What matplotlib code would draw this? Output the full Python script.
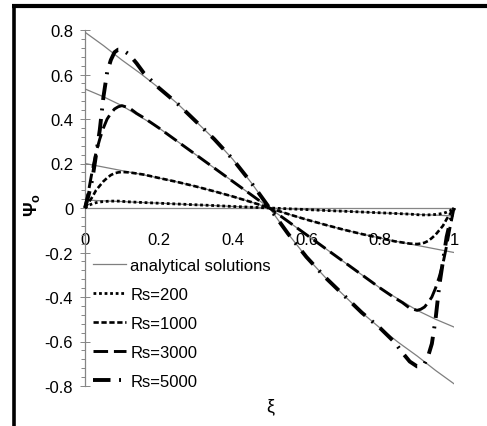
import matplotlib
matplotlib.use("Agg")
import matplotlib.pyplot as plt
from matplotlib import font_manager
from matplotlib.lines import Line2D
from matplotlib.ticker import MultipleLocator

# narrow font if there is one, otherwise Liberation Sans a bit smaller
installed = {f.name for f in font_manager.fontManager.ttflist}
if "Liberation Sans Narrow" in installed:
    plt.rcParams['font.family'] = ['Liberation Sans Narrow', 'DejaVu Sans']
    fs = 13
else:
    plt.rcParams['font.family'] = ['Liberation Sans', 'DejaVu Sans']
    fs = 12

# analytical solutions
xi_ana = [0, 0.05, 0.1, 0.15, 0.2, 0.25, 0.3, 0.35, 0.4, 0.45, 0.5,
          0.55, 0.6, 0.65, 0.7, 0.75, 0.8, 0.85, 0.9, 0.95, 1.0]
ana_200 = [0.036, 0.032, 0.029, 0.025, 0.022, 0.018, 0.014, 0.011, 0.007, 0.004, 0,
           -0.004, -0.007, -0.011, -0.014, -0.018, -0.022, -0.025, -0.029, -0.032, -0.036]
ana_1000 = [0.2, 0.184, 0.168, 0.152, 0.135, 0.117, 0.097, 0.075, 0.052, 0.027, 0,
            -0.027, -0.052, -0.075, -0.097, -0.117, -0.135, -0.152, -0.168, -0.184, -0.2]
ana_3000 = [0.535, 0.50, 0.46, 0.41, 0.36, 0.30, 0.24, 0.18, 0.12, 0.06, 0,
            -0.06, -0.12, -0.18, -0.24, -0.30, -0.36, -0.41, -0.46, -0.50, -0.535]
ana_5000 = [0.79, 0.73, 0.665, 0.605, 0.54, 0.47, 0.39, 0.31, 0.22, 0.115, 0,
            -0.115, -0.22, -0.31, -0.39, -0.47, -0.54, -0.605, -0.665, -0.73, -0.79]

# numerical solutions
xi_num = [0, 0.01, 0.02, 0.03, 0.04, 0.05, 0.06, 0.07, 0.08, 0.09, 0.1,
          0.12, 0.14, 0.16, 0.2, 0.25, 0.3, 0.35, 0.4, 0.45, 0.5,
          0.55, 0.6, 0.65, 0.7, 0.75, 0.8, 0.84, 0.86, 0.88,
          0.9, 0.91, 0.92, 0.93, 0.94, 0.95, 0.96, 0.97, 0.98, 0.99, 1.0]
rs_200 = [0, 0.012, 0.019, 0.024, 0.027, 0.029, 0.030, 0.031, 0.031, 0.031, 0.030,
          0.0275, 0.026, 0.0245, 0.0215, 0.018, 0.0145, 0.011, 0.007, 0.0035, 0,
          -0.0035, -0.007, -0.011, -0.0145, -0.018, -0.0215, -0.0245, -0.026, -0.0275,
          -0.030, -0.031, -0.031, -0.031, -0.030, -0.029, -0.027, -0.024, -0.019, -0.012, 0]
rs_1000 = [0, 0.025, 0.05, 0.08, 0.10, 0.12, 0.135, 0.148, 0.156, 0.160, 0.162,
           0.160, 0.155, 0.150, 0.135, 0.117, 0.097, 0.075, 0.052, 0.027, 0,
           -0.027, -0.052, -0.075, -0.097, -0.117, -0.135, -0.150, -0.155, -0.160,
           -0.162, -0.160, -0.156, -0.148, -0.135, -0.12, -0.10, -0.08, -0.05, -0.025, 0]
rs_3000 = [0, 0.08, 0.17, 0.25, 0.31, 0.36, 0.40, 0.425, 0.445, 0.455, 0.46,
           0.45, 0.425, 0.405, 0.36, 0.30, 0.24, 0.18, 0.12, 0.06, 0,
           -0.06, -0.12, -0.18, -0.24, -0.30, -0.36, -0.405, -0.425, -0.45,
           -0.46, -0.455, -0.445, -0.425, -0.40, -0.36, -0.31, -0.25, -0.17, -0.08, 0]
rs_5000 = [0, 0.06, 0.13, 0.24, 0.35, 0.50, 0.61, 0.665, 0.70, 0.712, 0.712,
           0.69, 0.65, 0.605, 0.54, 0.47, 0.39, 0.31, 0.22, 0.115, 0,
           -0.115, -0.22, -0.31, -0.39, -0.47, -0.54, -0.605, -0.65, -0.69,
           -0.712, -0.712, -0.70, -0.665, -0.61, -0.50, -0.35, -0.24, -0.13, -0.06, 0]

x_ticks = [0, 0.2, 0.4, 0.6, 0.8, 1]
x_ticklabels = ["0", "0.2", "0.4", "0.6", "0.8", "1"]
y_ticks = [-0.8, -0.6, -0.4, -0.2, 0, 0.2, 0.4, 0.6, 0.8]
y_ticklabels = ["-0.8", "-0.6", "-0.4", "-0.2", "0", "0.2", "0.4", "0.6", "0.8"]

W, H = 487, 427
fig = plt.figure(figsize=(W / 100, H / 100), dpi=100)
ax = fig.add_axes([85 / W, 40 / H, 369 / W, 356 / H])

gray = "#868686"

# analytical lines
ax.plot(xi_ana, ana_200, color="#7f7f7f", lw=0.9, label="analytical solutions", zorder=3)
for ys in (ana_1000, ana_3000, ana_5000):
    ax.plot(xi_ana, ys, color="#7f7f7f", lw=0.9, zorder=3)

# numerical
ax.plot(xi_num, rs_200, color="black", lw=2.0, ls=(0, (1, 1)), label="Rs=200", zorder=4, clip_on=False)
ax.plot(xi_num, rs_1000, color="black", lw=1.9, ls=(0, (2, 1)), label="Rs=1000", zorder=4, clip_on=False)
ax.plot(xi_num, rs_3000, color="black", lw=2.1, ls=(0, (5, 2)), label="Rs=3000", zorder=4, clip_on=False)
ax.plot(xi_num, rs_5000, color="black", lw=2.8, ls=(0, (4.5, 2.2, 0.5, 2.2)), label="Rs=5000",
        zorder=4, clip_on=False)

ax.set_xlim(0, 1)
ax.set_ylim(-0.8, 0.8)

for s in ("top", "right"):
    ax.spines[s].set_visible(False)
ax.spines["left"].set_color(gray)
ax.spines["left"].set_linewidth(0.9)
ax.spines["bottom"].set_position(("data", 0))
ax.spines["bottom"].set_color(gray)
ax.spines["bottom"].set_linewidth(0.9)
ax.spines["bottom"].set_zorder(2)

ax.set_xticks(x_ticks)
ax.set_xticklabels(x_ticklabels)
ax.tick_params(axis="x", length=0, pad=17, labelsize=fs)
ax.set_yticks(y_ticks)
ax.set_yticklabels(y_ticklabels)
ax.yaxis.set_minor_locator(MultipleLocator(0.04))
ax.tick_params(axis="y", which="major", direction="inout", length=7, width=0.7,
               color=gray, pad=5, labelsize=fs)
ax.tick_params(axis="y", which="minor", direction="out", length=3, width=0.7, color=gray)

leg = ax.legend(loc="upper left", bbox_to_anchor=(93 / W, 1 - 259 / H),
                bbox_transform=fig.transFigure, frameon=False, fontsize=fs,
                handlelength=2.0, handletextpad=0.25, labelspacing=0.84,
                borderpad=0, borderaxespad=0)

fig.text(32 / W, 1 - 205 / H, "Ψ$_\\mathregular{o}$", rotation=90, ha="center", va="center",
         fontsize=fs + 1, fontweight="bold")
fig.text(270 / W, 1 - 407 / H, "ξ", ha="center", va="center", fontsize=fs + 1)

# black frame (left and top)
fig.add_artist(Line2D([13.5 / W, 13.5 / W], [0, 1 - 5 / H], color="black", lw=2.6,
                      transform=fig.transFigure, solid_capstyle="butt"))
fig.add_artist(Line2D([12 / W, 1], [1 - 7 / H, 1 - 7 / H], color="black", lw=3,
                      transform=fig.transFigure, solid_capstyle="butt"))

fig.savefig("out.png", dpi=100)
